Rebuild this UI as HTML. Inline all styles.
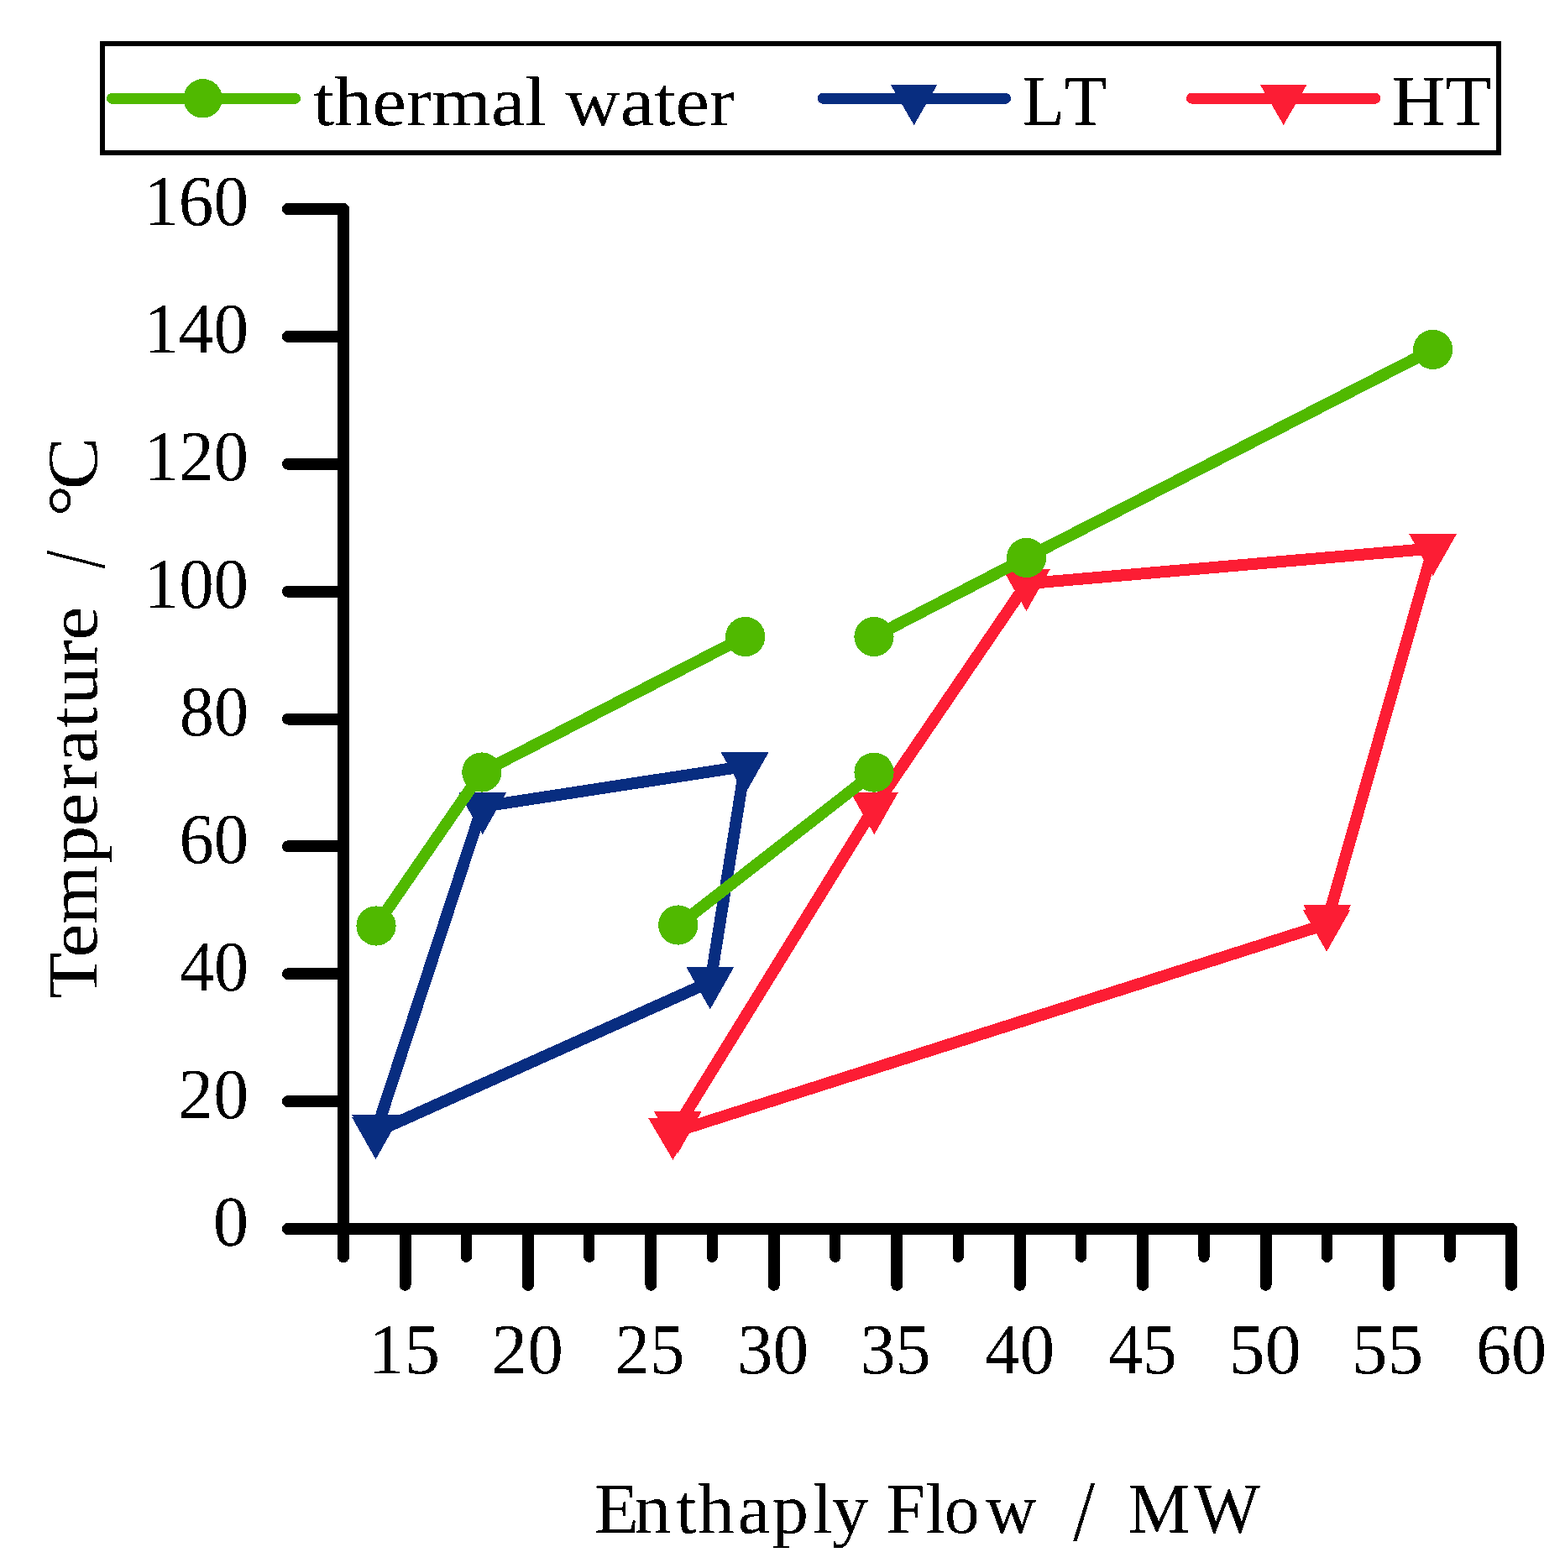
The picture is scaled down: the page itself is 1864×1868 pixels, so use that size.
<!DOCTYPE html>
<html lang="en"><head><meta charset="utf-8"><title>Temperature vs Enthalpy Flow</title>
<style>html,body{margin:0;padding:0;background:#fff;}body{width:1864px;height:1868px;overflow:hidden;}svg{display:block;}text{font-family:"Liberation Serif", "DejaVu Serif", serif;fill:#000;font-kerning:none;white-space:pre;}</style>
</head><body>
<svg width="1864" height="1868" viewBox="0 0 1864 1868" shape-rendering="crispEdges">
<defs><filter id="crisp" x="-10%" y="-10%" width="120%" height="120%" color-interpolation-filters="sRGB"><feComponentTransfer><feFuncA type="discrete" tableValues="0 1"/></feComponentTransfer></filter></defs>
<rect width="1864" height="1868" fill="#fff"/>
<g fill="none" stroke="#000" stroke-width="14" stroke-linecap="round" stroke-linejoin="round">
<path d="M343,249.00 H409.0 V1497.3"/>
<path d="M343,1464.00 H1800.18 V1530.8"/>
<path d="M343,400.88H409.0M343,552.75H409.0M343,704.62H409.0M343,856.50H409.0M343,1008.38H409.0M343,1160.25H409.0M343,1312.12H409.0M482.52,1464.00V1530.8M628.96,1464.00V1530.8M775.40,1464.00V1530.8M921.84,1464.00V1530.8M1068.28,1464.00V1530.8M1214.72,1464.00V1530.8M1361.16,1464.00V1530.8M1507.60,1464.00V1530.8M1654.04,1464.00V1530.8"/>
<path stroke-width="13.2" d="M555.44,1464.00V1497.3M701.88,1464.00V1497.3M848.32,1464.00V1497.3M994.76,1464.00V1497.3M1141.20,1464.00V1497.3M1287.64,1464.00V1497.3M1434.08,1464.00V1497.3M1580.52,1464.00V1497.3M1726.96,1464.00V1497.3"/>
</g>
<g filter="url(#crisp)">
<text transform="translate(171.29,268.30) rotate(0.03) scale(0.9729,1.0000)" font-size="85.5">160</text>
<text transform="translate(171.29,420.27) rotate(0.03) scale(0.9729,1.0000)" font-size="85.5">140</text>
<text transform="translate(171.71,572.25) rotate(0.03) scale(0.9695,1.0000)" font-size="85.5">120</text>
<text transform="translate(171.71,724.22) rotate(0.03) scale(0.9695,1.0000)" font-size="85.5">100</text>
<text transform="translate(213.87,876.20) rotate(0.03) scale(0.9609,1.0000)" font-size="85.5">80</text>
<text transform="translate(213.45,1028.17) rotate(0.03) scale(0.9660,1.0000)" font-size="85.5">60</text>
<text transform="translate(213.90,1180.15) rotate(0.03) scale(0.9606,1.0000)" font-size="85.5">40</text>
<text transform="translate(212.32,1332.12) rotate(0.03) scale(0.9798,1.0000)" font-size="85.5">20</text>
<text transform="translate(253.77,1484.10) rotate(0.03) scale(0.9907,1.0000)" font-size="85.5">0</text>
<text transform="translate(439.02,1636.20) rotate(0.03) scale(0.9954,1.0000)" font-size="85.5">15</text>
<text transform="translate(585.45,1636.20) rotate(0.03) scale(0.9989,1.0000)" font-size="85.5">20</text>
<text transform="translate(732.55,1636.20) rotate(0.03) scale(0.9719,1.0000)" font-size="85.5">25</text>
<text transform="translate(877.92,1636.20) rotate(0.03) scale(0.9981,1.0000)" font-size="85.5">30</text>
<text transform="translate(1024.47,1636.20) rotate(0.03) scale(0.9850,1.0000)" font-size="85.5">35</text>
<text transform="translate(1172.98,1636.20) rotate(0.03) scale(0.9730,1.0000)" font-size="85.5">40</text>
<text transform="translate(1319.90,1636.20) rotate(0.03) scale(0.9566,1.0000)" font-size="85.5">45</text>
<text transform="translate(1463.60,1636.20) rotate(0.03) scale(1.0068,1.0000)" font-size="85.5">50</text>
<text transform="translate(1609.84,1636.20) rotate(0.03) scale(0.9975,1.0000)" font-size="85.5">55</text>
<text transform="translate(1757.89,1636.20) rotate(0.03) scale(0.9838,1.0000)" font-size="85.5">60</text>
</g>
<g filter="url(#crisp)">
<text transform="translate(115.20,1188.40) rotate(-89.97) scale(1.0711,1.0000)" font-size="84.5" x="-1.53 44.69 81.31 148.85 190.23 231.33 260.95 299.88 326.01 369.31 397.30">Temperature</text>
<text transform="translate(124.09,677.20) rotate(-89.97) scale(0.9062,1.2188)" font-size="85">/</text>
<text transform="translate(115.20,611.00) rotate(-89.97) scale(1.1109,1.0000)" font-size="85" x="-4.07 24.78">°C</text>
<text transform="translate(710.30,1826.10) rotate(0.03) scale(1.0260,1.0000)" font-size="85" x="-2.45 44.15 92.44 117.79 163.87 203.99 250.83 273.42">Enthaply</text>
<text transform="translate(1058.00,1826.10) rotate(0.03) scale(0.9864,1.0000)" font-size="85" x="-2.45 45.34 67.73 117.62">Flow</text>
<text transform="translate(1278.20,1834.79) rotate(0.03) scale(1.1010,1.2135)" font-size="85">/</text>
<text transform="translate(1345.80,1826.10) rotate(0.03) scale(0.9793,1.0000)" font-size="85.3" x="-2.46 77.93">MW</text>
</g>
<rect x="122.1" y="52" width="1662.8" height="130.1" fill="none" stroke="#000" stroke-width="5.8"/>
<g stroke-linecap="round" stroke-linejoin="round" fill="none" stroke-width="12.9">
<path d="M133.4,117.4H351.6" stroke="#50b900"/>
<path d="M980.2,117.3H1197.6" stroke="#082d80"/>
<path d="M1419.4,117.2H1637.9" stroke="#fc1d34"/>
</g>
<circle cx="241.6" cy="117.3" r="23.2" fill="#50b900"/>
<path d="M1060.80,100.90L1116.40,100.90L1088.60,149.10Z" fill="#082d80"/>
<path d="M1500.80,100.80L1556.60,100.80L1528.70,149.00Z" fill="#fc1d34"/>
<g filter="url(#crisp)">
<text transform="translate(372.91,148.90) rotate(0.03) scale(1.0925,1.0000)" font-size="83.2">thermal water</text>
<text transform="translate(1217.63,149.15) rotate(0.03) scale(0.9616,1.0000)" font-size="85.4">LT</text>
<text transform="translate(1657.13,149.15) rotate(0.03) scale(1.0458,1.0000)" font-size="85.4">HT</text>
</g>
<g stroke="#082d80" fill="none" stroke-width="14.0" stroke-linecap="round" stroke-linejoin="round">
<path d="M448.6,1345.7 L574.6,960.9 L887.2,912.9 L846.3,1169.6 L447.5,1348.6"/>
</g>
<g fill="#082d80">
<path d="M419.10,1328.00L475.90,1328.00L447.50,1378.20ZM419.10,1331.00L475.90,1331.00L447.50,1381.20ZM546.30,944.10L603.10,944.10L574.70,994.30ZM858.70,896.30L915.50,896.30L887.10,946.50ZM817.40,1152.20L874.20,1152.20L845.80,1202.40Z"/>
</g>
<g stroke="#fc1d34" fill="none" stroke-width="14.0" stroke-linecap="round" stroke-linejoin="round">
<path d="M807.8,1340.7 L1041.9,960.8 L1222.6,695.3 L1706.8,653.4 L1581.5,1095"/>
<path d="M1580.1,1100.9 L801.5,1349.1"/>
</g>
<g fill="#fc1d34">
<path d="M778.90,1324.00L835.70,1324.00L807.30,1374.20ZM772.10,1331.90L830.90,1331.90L801.50,1381.90ZM1013.00,944.00L1069.80,944.00L1041.40,994.20ZM1194.10,677.90L1250.90,677.90L1222.50,728.10ZM1678.20,636.00L1735.00,636.00L1706.60,686.20ZM1552.30,1078.10L1609.10,1078.10L1580.70,1128.30ZM1551.70,1083.60L1608.50,1083.60L1580.10,1133.80Z"/>
</g>
<g stroke="#50b900" fill="none" stroke-width="14.0" stroke-linecap="round" stroke-linejoin="round">
<path d="M448,1103 L573.8,920 L887.7,758.5"/>
<path d="M807.7,1102.6 L1041,920.7"/>
<path d="M1041,758.5 L1222.6,664.5 L1706.7,416.4"/>
</g>
<g fill="#50b900">
<circle cx="448" cy="1103" r="23.6"/>
<circle cx="573.8" cy="920" r="23.6"/>
<circle cx="887.7" cy="758.5" r="23.6"/>
<circle cx="807.7" cy="1102" r="23.6"/>
<circle cx="1041" cy="920.1" r="23.6"/>
<circle cx="1041" cy="758.5" r="23.6"/>
<circle cx="1222.6" cy="664.5" r="23.6"/>
<circle cx="1706.7" cy="416.4" r="23.6"/>
</g>
</svg>
</body></html>
